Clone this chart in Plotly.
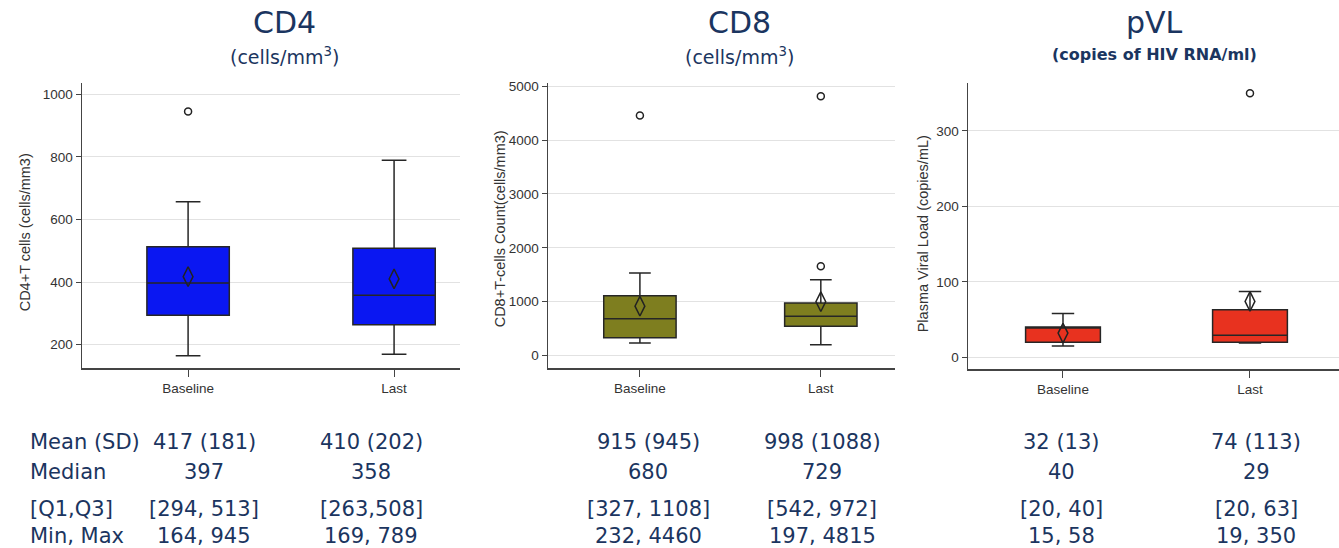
import plotly.graph_objects as go

# ---------------- data ----------------
groups = ["Baseline", "Last"]

cd4_q1 = [294, 263]
cd4_median = [397, 358]
cd4_q3 = [513, 508]
cd4_low = [164, 169]
cd4_high = [657, 789]
cd4_mean = [417, 410]
cd4_out_x = ["Baseline"]
cd4_out_y = [945]

cd8_q1 = [327, 542]
cd8_median = [680, 729]
cd8_q3 = [1108, 972]
cd8_low = [232, 197]
cd8_high = [1531, 1408]
cd8_mean = [915, 998]
cd8_out_x = ["Baseline", "Last", "Last"]
cd8_out_y = [4460, 4815, 1655]

pvl_q1 = [20, 20]
pvl_median = [40, 29]
pvl_q3 = [40, 63]
pvl_low = [15, 19]
pvl_high = [58, 87]
pvl_mean = [32, 74]
pvl_out_x = ["Last"]
pvl_out_y = [350]

row_labels = ["Mean (SD)", "Median", "[Q1,Q3]", "Min, Max"]
cd4_table = [["417 (181)", "397", "[294, 513]", "164, 945"],
             ["410 (202)", "358", "[263,508]", "169, 789"]]
cd8_table = [["915 (945)", "680", "[327, 1108]", "232, 4460"],
             ["998 (1088)", "729", "[542, 972]", "197, 4815"]]
pvl_table = [["32 (13)", "40", "[20, 40]", "15, 58"],
             ["74 (113)", "29", "[20, 63]", "19, 350"]]

titles = ["CD4", "CD8", "pVL"]
subtitles = ["(cells/mm<sup>3</sup>)", "(cells/mm<sup>3</sup>)", "<b>(copies of HIV RNA/ml)</b>"]
ytitles = ["CD4+T cells (cells/mm3)", "CD8+T-cells Count(cells/mm3)", "Plasma Viral Load (copies/mL)"]
colors = ["#0A17F2", "#7E7E1F", "#E8321F"]

# ---------------- layout geometry ----------------
W, H = 1339, 548
NAVY = "#1B3560"
TICKFONT = dict(family="Liberation Sans, Arial", size=13.5, color="#333")
TABLEFONT = dict(family="DejaVu Sans", size=21, color=NAVY)

def px_x(p):
    return p / W

def px_y(p):
    return 1 - p / H

domains_x = [(82, 460), (548, 895), (968, 1339)]
domains_y = [(80, 367), (80, 367), (80, 368)]
xranges = [[-0.515, 1.32], [-0.508, 1.41], [-0.508, 1.476]]
yranges = [[124, 1035], [-240, 5055], [-16, 363]]
ytickvals = [[200, 400, 600, 800, 1000], [0, 1000, 2000, 3000, 4000, 5000], [0, 100, 200, 300]]
ytitle_x = [25, 500, 923]
ytitle_y = [230, 227, 232]
title_cx = [284, 739, 1154]
table_cx = [(204, 371), (648, 822), (1061, 1256)]
row_y = [441, 471, 509, 536]

panels = [
    (cd4_q1, cd4_median, cd4_q3, cd4_low, cd4_high, cd4_mean, cd4_out_x, cd4_out_y, cd4_table),
    (cd8_q1, cd8_median, cd8_q3, cd8_low, cd8_high, cd8_mean, cd8_out_x, cd8_out_y, cd8_table),
    (pvl_q1, pvl_median, pvl_q3, pvl_low, pvl_high, pvl_mean, pvl_out_x, pvl_out_y, pvl_table),
]

fig = go.Figure()
annotations = []
layout_axes = {}

for i, (q1, med, q3, lo, hi, mean, ox, oy, table) in enumerate(panels):
    n = "" if i == 0 else str(i + 1)
    xref, yref = "x" + n, "y" + n
    xpos = list(range(len(groups)))
    fig.add_trace(go.Box(
        x=xpos, q1=q1, median=med, q3=q3, lowerfence=lo, upperfence=hi,
        width=0.4, whiskerwidth=0.3, fillcolor=colors[i],
        line=dict(color="#262626", width=1.5), boxpoints=False,
        xaxis=xref, yaxis=yref, showlegend=False, hoverinfo="skip"))
    fig.add_trace(go.Scatter(
        x=xpos, y=mean, mode="markers",
        marker=dict(symbol="diamond-tall-open", size=14, color="#222", line=dict(width=1.5)),
        xaxis=xref, yaxis=yref, showlegend=False))
    fig.add_trace(go.Scatter(
        x=[groups.index(g) for g in ox], y=oy, mode="markers",
        marker=dict(symbol="circle-open", size=7, color="#222", line=dict(width=1.5)),
        xaxis=xref, yaxis=yref, showlegend=False))

    layout_axes["xaxis" + n] = dict(
        domain=[px_x(domains_x[i][0]), min(1.0, px_x(domains_x[i][1]))],
        anchor=yref, range=xranges[i], tickvals=xpos, ticktext=groups,
        showline=True, linecolor="#444", linewidth=1.5, showgrid=False, zeroline=False,
        ticks="outside", ticklen=7, tickcolor="#444", tickfont=TICKFONT)
    layout_axes["yaxis" + n] = dict(
        domain=[px_y(domains_y[i][1]), px_y(domains_y[i][0])],
        anchor=xref, range=yranges[i], tickvals=ytickvals[i],
        showline=True, linecolor="#444", linewidth=1.5, showgrid=True, gridcolor="#e2e2e2",
        zeroline=False, ticks="outside", ticklen=5, tickcolor="#444", tickfont=TICKFONT)

    # rotated y-axis titles
    annotations.append(dict(text=ytitles[i], x=px_x(ytitle_x[i]), y=px_y(ytitle_y[i]),
                            xref="paper", yref="paper", showarrow=False, textangle=-90,
                            xanchor="center", yanchor="middle",
                            font=dict(family="Liberation Sans, Arial", size=14.5, color="#333")))
    # titles
    annotations.append(dict(text=titles[i], x=px_x(title_cx[i]), y=1, xref="paper", yref="paper",
                            showarrow=False, xanchor="center", yanchor="top", borderpad=0,
                            font=dict(family="DejaVu Sans", size=30, color=NAVY)))
    sub_size = 16 if i == 2 else 19
    annotations.append(dict(text=subtitles[i], x=px_x(title_cx[i]), y=px_y(52 if i < 2 else 51),
                            xref="paper", yref="paper",
                            showarrow=False, xanchor="center", yanchor="middle",
                            font=dict(family="DejaVu Sans", size=sub_size, color=NAVY)))
    # table
    for c in range(2):
        for r in range(4):
            annotations.append(dict(text=table[c][r], x=px_x(table_cx[i][c]), y=px_y(row_y[r]),
                                    xref="paper", yref="paper", showarrow=False,
                                    xanchor="center", yanchor="middle", font=TABLEFONT))

for r in range(4):
    annotations.append(dict(text=row_labels[r], x=px_x(28), y=px_y(row_y[r]), xref="paper", yref="paper",
                            showarrow=False, xanchor="left", yanchor="middle", font=TABLEFONT))

fig.update_layout(
    width=W, height=H, margin=dict(l=0, r=0, t=0, b=0),
    paper_bgcolor="white", plot_bgcolor="white",
    annotations=annotations, **layout_axes)

fig.write_html("out.html", config={"displayModeBar": False, "staticPlot": True},
               post_script="document.body.style.margin='0px';document.body.style.overflow='hidden';")
